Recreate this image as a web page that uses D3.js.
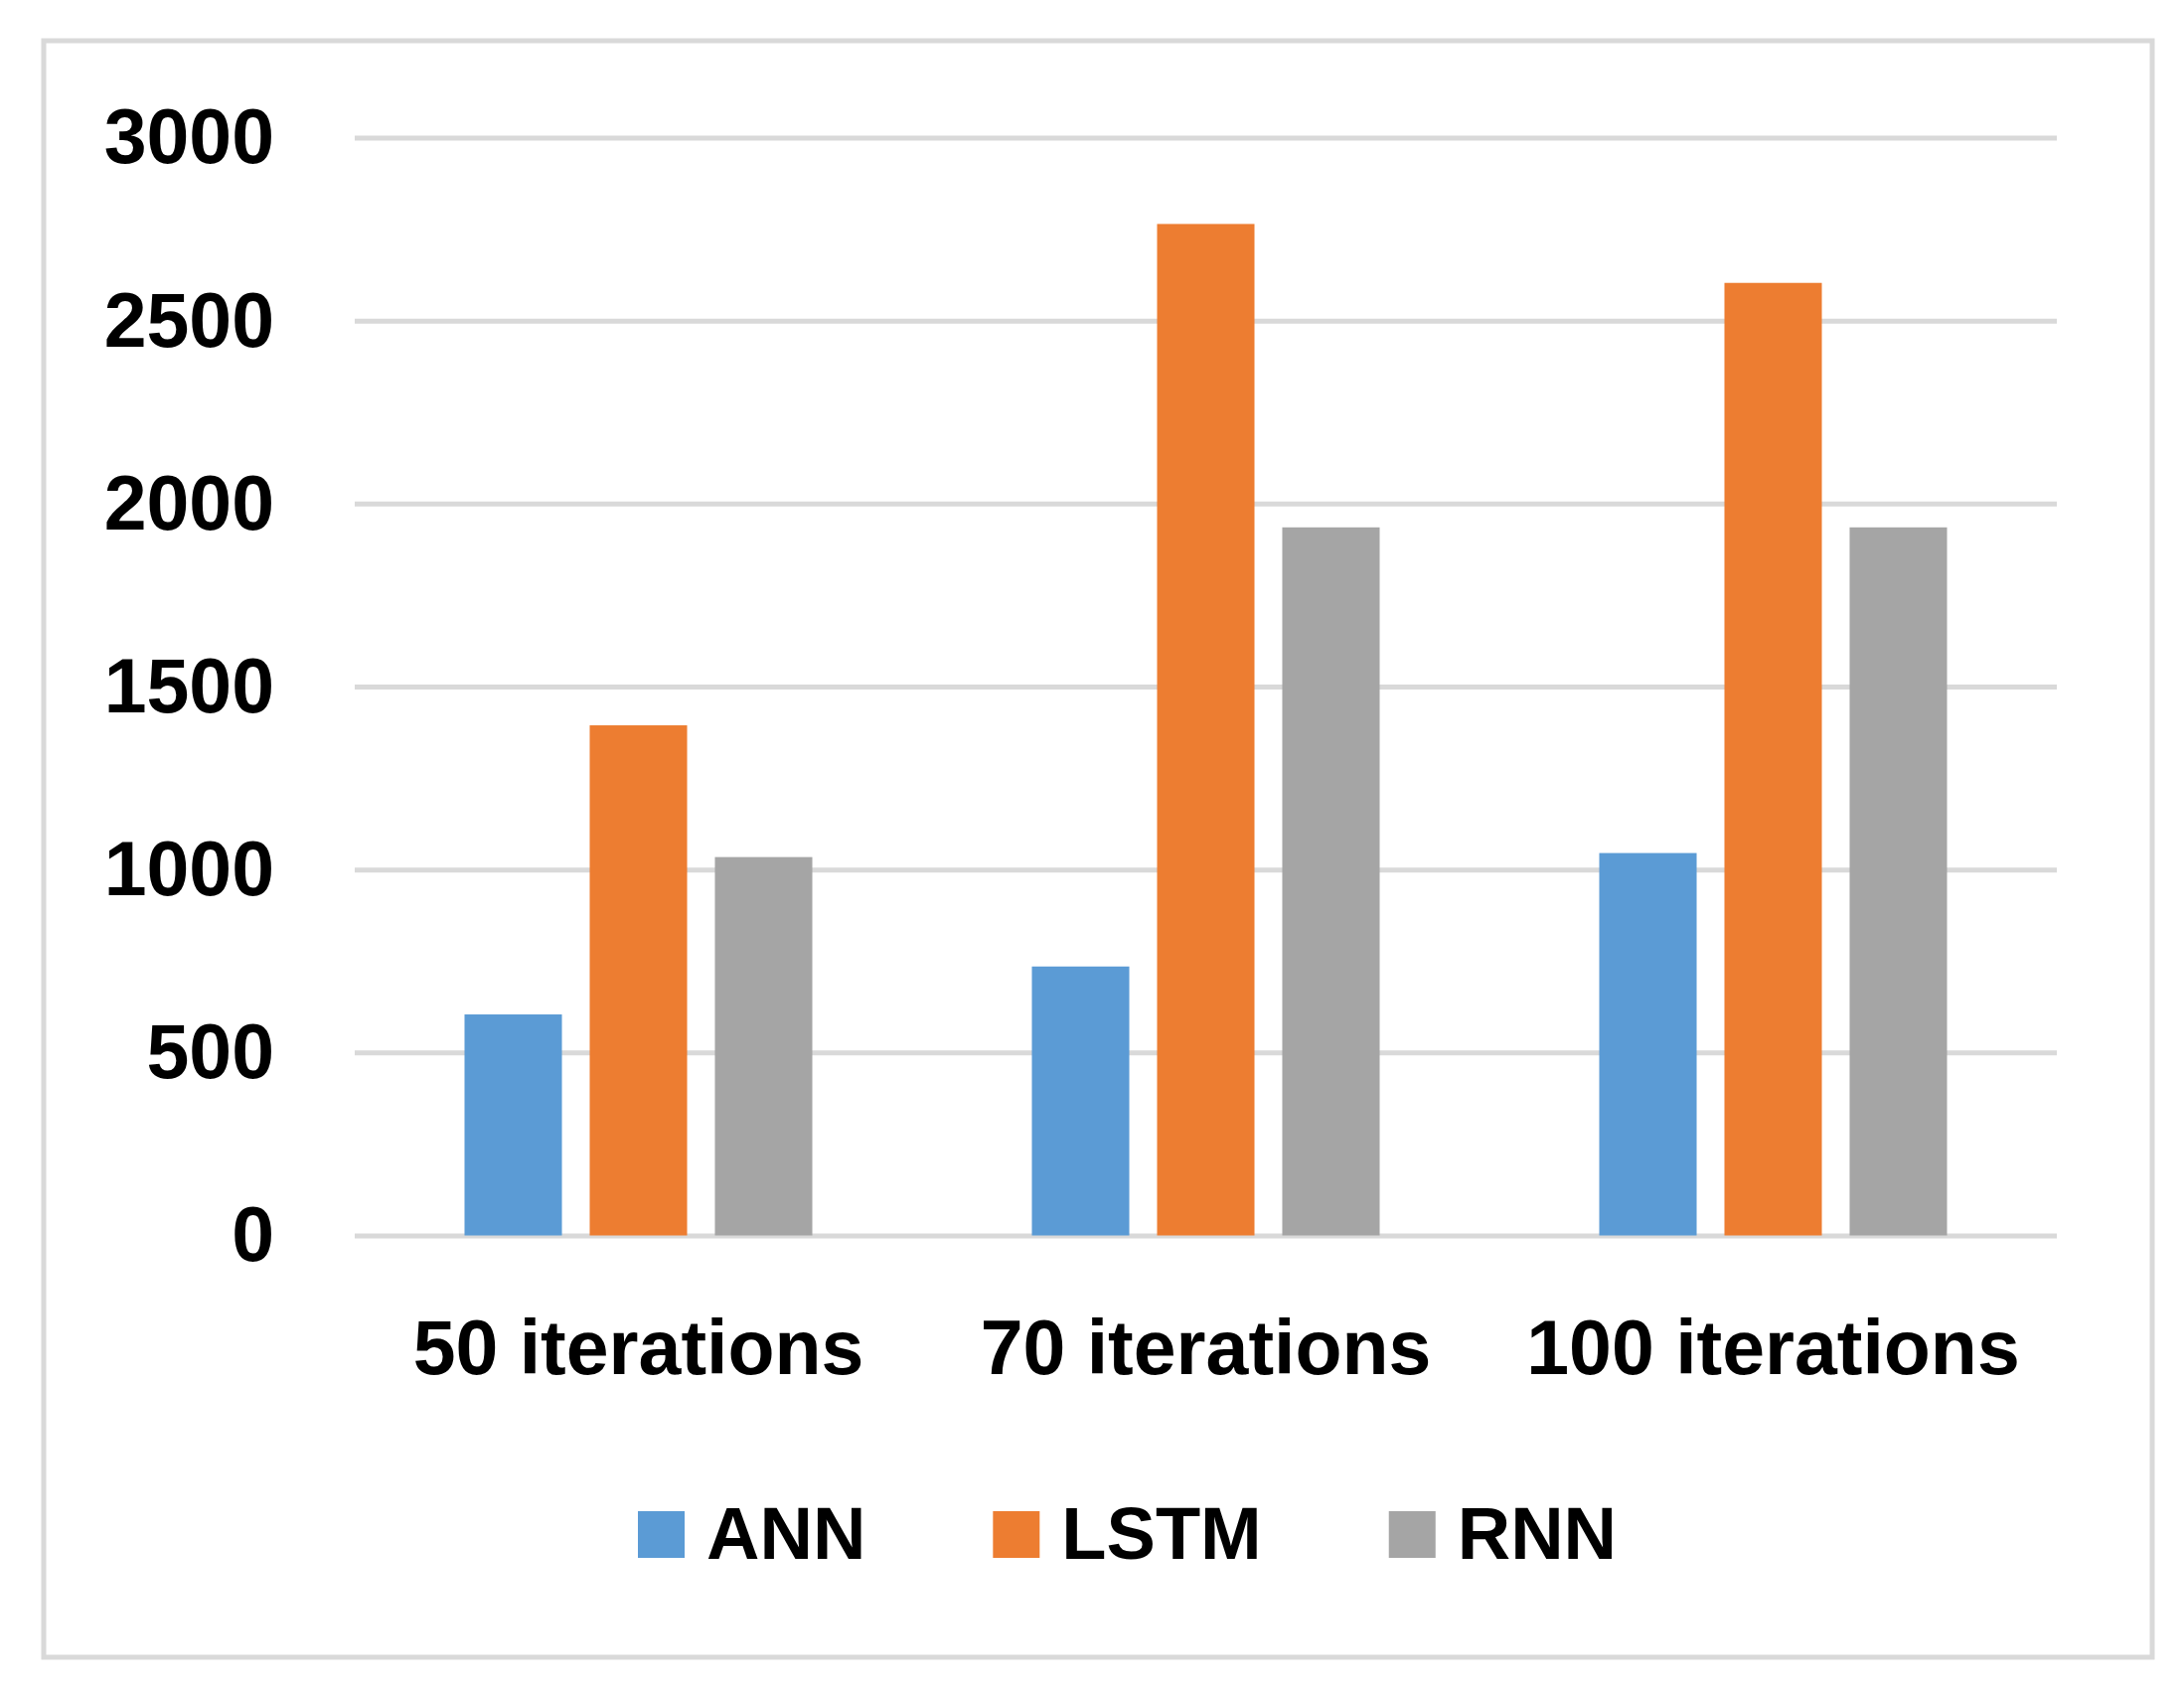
<!DOCTYPE html>
<html>
<head>
<meta charset="utf-8">
<script src="https://cdn.jsdelivr.net/npm/d3@7"></script>
<style>
  html, body { margin: 0; padding: 0; background: #ffffff; }
  svg { display: block; }
  text { font-family: "Liberation Sans", Arial, sans-serif; font-weight: bold; fill: #000; }
</style>
</head>
<body>
<svg id="chart" width="2198" height="1703"></svg>
<script>
// ---- data ----
const categories = ["50 iterations", "70 iterations", "100 iterations"];
const seriesNames = ["ANN", "LSTM", "RNN"];
const annValues  = [604, 735, 1045];
const lstmValues = [1394, 2764, 2603];
const rnnValues  = [1034, 1935, 1935];
const yTicks = [0, 500, 1000, 1500, 2000, 2500, 3000];
const colors = ["#5b9bd5", "#ed7d31", "#a5a5a5"];

const seriesValues = [annValues, lstmValues, rnnValues];
const table = categories.map((c, i) => ({
  category: c,
  values: seriesNames.map((s, j) => ({ series: s, value: seriesValues[j][i] }))
}));

// ---- layout ----
const svg = d3.select("#chart");
const plot = { left: 357, right: 2070, top: 138.5, bottom: 1243.5 };

// outer border
svg.append("rect")
  .attr("x", 44).attr("y", 41)
  .attr("width", 2122).attr("height", 1627)
  .attr("fill", "#ffffff")
  .attr("stroke", "#d9d9d9").attr("stroke-width", 5);

const y = d3.scaleLinear().domain([0, 3000]).range([plot.bottom, plot.top]);
const x0 = d3.scaleBand().domain(categories).range([plot.left, plot.right]).padding(0);
const x1 = d3.scaleBand().domain(seriesNames).range([0, x0.bandwidth()])
  .paddingInner(0.222).paddingOuter(0.877);
const color = d3.scaleOrdinal().domain(seriesNames).range(colors);

// gridlines
const yAxisGrid = d3.axisLeft(y).tickValues(yTicks).tickSize(-(plot.right - plot.left)).tickFormat("");
const grid = svg.append("g").attr("transform", `translate(${plot.left},0)`).call(yAxisGrid);
grid.select(".domain").remove();
grid.selectAll(".tick line").attr("stroke", "#d9d9d9").attr("stroke-width", 5);

// y tick labels
const yAxis = d3.axisLeft(y).tickValues(yTicks).tickSize(0).tickPadding(0).tickFormat(d3.format("d"));
const yG = svg.append("g").attr("transform", `translate(276,0)`).call(yAxis);
yG.select(".domain").remove();
yG.selectAll(".tick text")
  .attr("font-size", 77)
  .attr("font-family", "'Liberation Sans', Arial, sans-serif")
  .attr("font-weight", "bold")
  .attr("fill", "#000")
  .attr("dy", "0.33em");

// bars
const groups = svg.append("g").selectAll("g")
  .data(table).join("g")
  .attr("transform", d => `translate(${x0(d.category)},0)`);
groups.selectAll("rect")
  .data(d => d.values).join("rect")
  .attr("x", d => x1(d.series))
  .attr("width", x1.bandwidth())
  .attr("y", d => y(d.value))
  .attr("height", d => y(0) - y(d.value))
  .attr("fill", d => color(d.series));

// x category labels
const xAxis = d3.axisBottom(x0).tickSize(0).tickPadding(0);
const xG = svg.append("g").attr("transform", `translate(0,1383)`).call(xAxis);
xG.select(".domain").remove();
xG.selectAll(".tick text")
  .attr("font-size", 77)
  .attr("font-family", "'Liberation Sans', Arial, sans-serif")
  .attr("font-weight", "bold")
  .attr("fill", "#000")
  .attr("dy", 0)
  .attr("y", 0);

// legend
const legend = svg.append("g");
let lx = 642;
seriesNames.forEach((s, i) => {
  legend.append("rect")
    .attr("x", lx).attr("y", 1521)
    .attr("width", 47).attr("height", 47)
    .attr("fill", color(s));
  const t = legend.append("text")
    .attr("x", lx + 47 + 22).attr("y", 1569)
    .attr("font-size", 74)
    .text(s);
  const w = t.node().getComputedTextLength();
  lx = lx + 47 + 22 + w + 128;
});
</script>
</body>
</html>
